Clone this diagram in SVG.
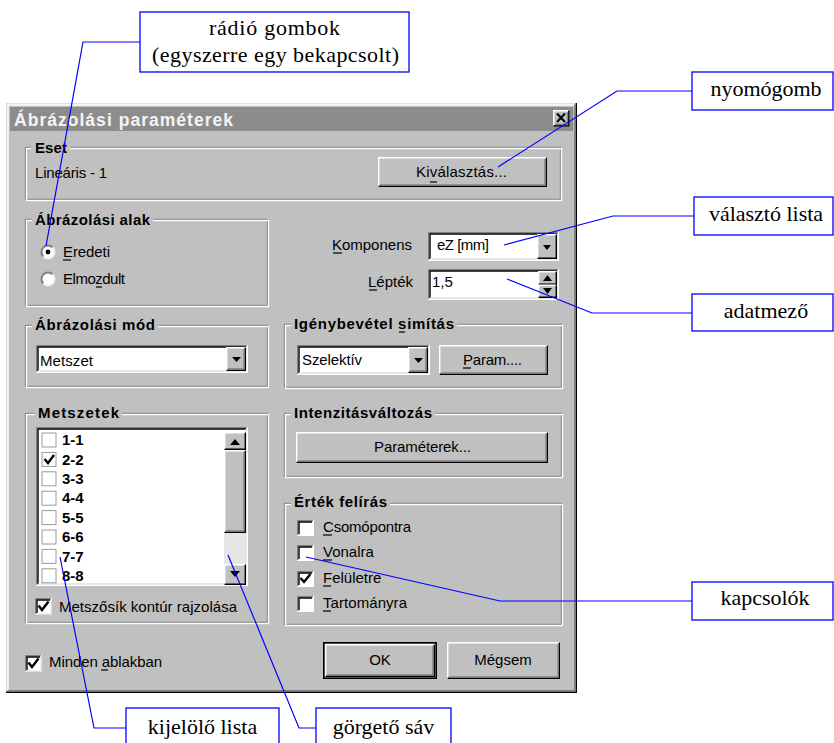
<svg xmlns="http://www.w3.org/2000/svg" width="834" height="743" viewBox="0 0 834 743">
<style>
.ui{font-family:'Liberation Sans',Arial,sans-serif;font-size:15px;fill:#000}
.b{font-weight:bold}
.call{font-family:'Liberation Serif','Times New Roman',serif;font-size:22px;fill:#000}
.cbox{fill:#fff;stroke:#0000ff;stroke-width:1.3}
.lead{fill:none;stroke:#0000ff;stroke-width:1.2}
.hl{fill:none;stroke:#fff;stroke-width:1.4}
.lt{fill:none;stroke:#dfdfdf;stroke-width:1.4}
.sh{fill:none;stroke:#000;stroke-width:1.4}
.dk{fill:none;stroke:#808080;stroke-width:1.4}
.face{fill:#c0c0c0}
.wh{fill:#fff}
.ul{stroke:#000;stroke-width:1.2}
.chk{fill:none;stroke:#000;stroke-width:2.4}
</style>
<rect width="834" height="743" fill="#fff"/>

<g id="dialog">
<rect x="6" y="103" width="571" height="590" class="face"/>
<path class="lt" d="M6.7 692 V103.7 H576"/>
<path class="hl" d="M8 690.5 V105 H574.5"/>
<path class="sh" d="M6 692.3 H576.3 V103" stroke-width="1.8"/>
<path class="dk" d="M7.5 690.8 H574.8 V104.5"/>
<rect x="10" y="107" width="563" height="24" fill="#8c8c8c"/>
<text x="14" y="125.5" class="ui b" font-size="17.5" style="fill:#f4f4f4;font-size:17.5px" textLength="219">Ábrázolási paraméterek</text>
</g>

<g id="close-btn">
<rect x="553" y="110" width="16" height="16" class="face"/>
<path class="hl" d="M553.7 125.5 V110.7 H568.3"/>
<path class="sh" d="M553.7 125.7 H568.7 V110.7"/>
<path class="dk" d="M555 124.5 H567.5 V112"/>
<path d="M557 113.5 L565 122 M565 113.5 L557 122" stroke="#000" stroke-width="2"/>
</g>

<g id="eset">
<rect x="25.5" y="147.5" width="535" height="52" class="dk"/>
<rect x="26.5" y="148.5" width="535" height="52" class="hl"/>
<rect x="31" y="144" width="39" height="8" class="face"/>
<text x="35" y="153" class="ui b" textLength="32">Eset</text>
<text x="35" y="178" class="ui" textLength="72">Lineáris - 1</text>
</g>

<g id="btn-kivalasztas">
<rect x="378" y="157" width="169" height="30" class="face"/>
<path class="hl" d="M378.7 186 V157.7 H546"/>
<path class="sh" d="M378.7 186.3 H546.3 V157.7"/>
<path class="dk" d="M380 185 H545 V159"/>
<text x="416" y="177" class="ui" textLength="91">Kiválasztás...</text>
<line x1="430" y1="182" x2="437" y2="182" class="ul"/>
</g>

<g id="abrazolasi-alak">
<rect x="25.5" y="219.5" width="242" height="86" class="dk"/>
<rect x="26.5" y="220.5" width="242" height="86" class="hl"/>
<rect x="32" y="216" width="121" height="8" class="face"/>
<text x="35" y="225" class="ui b" textLength="115">Ábrázolási alak</text>
<g id="radio-eredeti">
<circle cx="48" cy="252" r="6.5" class="wh"/>
<path d="M43.4 256.6 A6.5 6.5 0 0 1 52.6 247.4" fill="none" stroke="#808080" stroke-width="2"/>
<path d="M52.6 247.4 A6.5 6.5 0 0 1 43.4 256.6" fill="none" stroke="#f0f0f0" stroke-width="2"/>
<circle cx="48" cy="252" r="2.4" fill="#000"/>
<text x="63" y="257" class="ui" textLength="47">Eredeti</text>
<line x1="63" y1="260" x2="71" y2="260" class="ul"/>
</g>
<g id="radio-elmozdult">
<circle cx="48" cy="279" r="6.5" class="wh"/>
<path d="M43.4 283.6 A6.5 6.5 0 0 1 52.6 274.4" fill="none" stroke="#808080" stroke-width="2"/>
<path d="M52.6 274.4 A6.5 6.5 0 0 1 43.4 283.6" fill="none" stroke="#f0f0f0" stroke-width="2"/>
<text x="63" y="284" class="ui" textLength="62">Elmozdult</text>
<line x1="96" y1="287" x2="102" y2="287" class="ul"/>
</g>
</g>

<g id="komponens">
<text x="412" y="250" class="ui" text-anchor="end">Komponens</text>
<line x1="333" y1="253" x2="342" y2="253" class="ul"/>
<rect x="428" y="232" width="131" height="29" class="wh"/>
<path class="dk" d="M428.7 260 V232.7 H558"/>
<path class="sh" d="M430 259 V234 H557"/>
<path class="hl" d="M428.7 260.3 H558.3 V232.7"/>
<path class="lt" d="M430 259 H557 V234"/>
<text x="437" y="250" class="ui" textLength="52">eZ [mm]</text>
<rect x="537" y="234" width="20" height="25" class="face"/>
<path class="hl" d="M537.7 258 V234.7 H556"/>
<path class="sh" d="M537.7 258.3 H556.3 V234.7"/>
<polygon points="543,245 551,245 547,250" fill="#000"/>
</g>

<g id="leptek">
<text x="413" y="287" class="ui" text-anchor="end">Lépték</text>
<line x1="369" y1="290" x2="377" y2="290" class="ul"/>
<rect x="428" y="269" width="131" height="31" class="wh"/>
<path class="dk" d="M428.7 299 V269.7 H558"/>
<path class="sh" d="M430 298 V271 H557"/>
<path class="hl" d="M428.7 299.3 H558.3 V269.7"/>
<path class="lt" d="M430 298 H557 V271"/>
<text x="432" y="287" class="ui">1,5</text>
<rect x="538" y="271" width="19" height="27" class="face"/>
<path class="hl" d="M538.7 284 V271.7 H556"/>
<path class="sh" d="M538.7 284.3 H556.3 V271.7"/>
<path class="hl" d="M538.7 297 V285.2 H556"/>
<path class="sh" d="M538.7 297.3 H556.3 V285.2"/>
<polygon points="543,281 552,281 547.5,275" fill="#000"/>
<polygon points="543,288 552,288 547.5,294" fill="#000"/>
</g>

<g id="abrazolasi-mod">
<rect x="25.5" y="325.5" width="242" height="61" class="dk"/>
<rect x="26.5" y="326.5" width="242" height="61" class="hl"/>
<rect x="32" y="322" width="126" height="8" class="face"/>
<text x="35" y="330" class="ui b" textLength="120">Ábrázolási mód</text>
<rect x="36" y="345" width="212" height="28" class="wh"/>
<path class="dk" d="M36.7 372 V345.7 H247"/>
<path class="sh" d="M38 371 V347 H246"/>
<path class="hl" d="M36.7 372.3 H247.3 V345.7"/>
<path class="lt" d="M38 371 H246 V347"/>
<text x="40" y="366" class="ui" textLength="53">Metszet</text>
<rect x="226" y="347" width="20" height="24" class="face"/>
<path class="hl" d="M226.7 370 V347.7 H245"/>
<path class="sh" d="M226.7 370.3 H245.3 V347.7"/>
<path class="dk" d="M228 369 H244 V349"/>
<polygon points="232,357 241,357 236.5,362" fill="#000"/>
</g>

<g id="igenybevetel">
<rect x="284.5" y="324.5" width="277" height="63" class="dk"/>
<rect x="285.5" y="325.5" width="277" height="63" class="hl"/>
<rect x="291" y="321" width="166" height="8" class="face"/>
<text x="294" y="329" class="ui b" textLength="160">Igénybevétel simítás</text>
<line x1="399" y1="332" x2="405" y2="332" class="ul"/>
<rect x="297" y="345" width="133" height="30" class="wh"/>
<path class="dk" d="M297.7 374 V345.7 H429"/>
<path class="sh" d="M299 373 V347 H428"/>
<path class="hl" d="M297.7 374.3 H429.3 V345.7"/>
<path class="lt" d="M299 373 H428 V347"/>
<text x="302" y="365" class="ui" textLength="60">Szelektív</text>
<rect x="408" y="347" width="20" height="26" class="face"/>
<path class="hl" d="M408.7 372 V347.7 H427"/>
<path class="sh" d="M408.7 372.3 H427.3 V347.7"/>
<path class="dk" d="M410 371 H426 V349"/>
<polygon points="414,358 423,358 418.5,363" fill="#000"/>
</g>

<g id="btn-param">
<rect x="439" y="345" width="109" height="30" class="face"/>
<path class="hl" d="M439.7 374 V345.7 H547"/>
<path class="sh" d="M439.7 374.3 H547.3 V345.7"/>
<path class="dk" d="M441 373 H546 V347"/>
<text x="463" y="365" class="ui" textLength="59">Param....</text>
<line x1="463" y1="368" x2="471" y2="368" class="ul"/>
</g>

<g id="intenzitas">
<rect x="284.5" y="413.5" width="277" height="63" class="dk"/>
<rect x="285.5" y="414.5" width="277" height="63" class="hl"/>
<rect x="291" y="410" width="144" height="8" class="face"/>
<text x="294" y="418" class="ui b" textLength="138">Intenzitásváltozás</text>
</g>

<g id="btn-parameterek">
<rect x="296" y="432" width="252" height="31" class="face"/>
<path class="hl" d="M296.7 462 V432.7 H547"/>
<path class="sh" d="M296.7 462.3 H547.3 V432.7"/>
<path class="dk" d="M298 461 H546 V434"/>
<text x="374" y="452" class="ui" textLength="97">Paraméterek...</text>
</g>

<g id="metszetek">
<rect x="25.5" y="413.5" width="242" height="209" class="dk"/>
<rect x="26.5" y="414.5" width="242" height="209" class="hl"/>
<rect x="35" y="410" width="87" height="8" class="face"/>
<text x="38" y="418" class="ui b" textLength="81">Metszetek</text>
</g>

<g id="lista">
<rect x="36" y="427" width="212" height="159" class="wh"/>
<path class="dk" d="M36.7 585 V427.7 H247"/>
<path class="sh" d="M38 584 V429 H246"/>
<path class="hl" d="M36.7 585.3 H247.3 V427.7"/>
<path class="lt" d="M38 584 H246 V429"/>
<g class="ui b">
<rect x="42" y="433" width="14" height="14" fill="#fff" stroke="#9a9a9a"/>
<text x="62" y="445">1-1</text>
<rect x="42" y="452.4" width="14" height="14" fill="#fff" stroke="#9a9a9a"/>
<path class="chk" d="M44.5 459 L48 463 L54 455"/>
<text x="62" y="465">2-2</text>
<rect x="42" y="471.8" width="14" height="14" fill="#fff" stroke="#9a9a9a"/>
<text x="62" y="484">3-3</text>
<rect x="42" y="491.2" width="14" height="14" fill="#fff" stroke="#9a9a9a"/>
<text x="62" y="503">4-4</text>
<rect x="42" y="510.6" width="14" height="14" fill="#fff" stroke="#9a9a9a"/>
<text x="62" y="523">5-5</text>
<rect x="42" y="530" width="14" height="14" fill="#fff" stroke="#9a9a9a"/>
<text x="62" y="542">6-6</text>
<rect x="42" y="549.4" width="14" height="14" fill="#fff" stroke="#9a9a9a"/>
<text x="62" y="562">7-7</text>
<rect x="42" y="568.8" width="14" height="14" fill="#fff" stroke="#9a9a9a"/>
<text x="62" y="581">8-8</text>
</g>
</g>

<g id="scrollbar">
<rect x="224" y="432" width="22" height="153" fill="#e6e6e6"/>
<rect x="224" y="432" width="22" height="18" class="face"/>
<path class="hl" d="M224.7 449 V432.7 H245"/>
<path class="sh" d="M224.7 449.3 H245.3 V432.7"/>
<polygon points="230,445 240,445 235,439" fill="#000"/>
<rect x="224" y="450" width="22" height="83" class="face"/>
<path class="hl" d="M224.7 532 V450.7 H245"/>
<path class="sh" d="M224.7 532.3 H245.3 V450.7"/>
<path class="dk" d="M226 531 H244 V452"/>
<rect x="224" y="564" width="22" height="21" class="face"/>
<path class="hl" d="M224.7 584 V564.7 H245"/>
<path class="sh" d="M224.7 584.3 H245.3 V564.7"/>
<polygon points="230,571 240,571 235,577" fill="#000"/>
</g>

<g id="metszosik">
<rect x="35" y="598" width="17" height="17" class="wh"/>
<path class="dk" d="M35.7 614 V598.7 H51"/>
<path class="sh" d="M37 613 V600 H50"/>
<path class="lt" d="M35.7 614.3 H51.3 V598.7"/>
<path class="chk" d="M38.5 605.5 L42 610 L48.5 601.5"/>
<text x="59" y="612" class="ui" textLength="178">Metszősík kontúr rajzolása</text>
</g>

<g id="ertek-feliras">
<rect x="284.5" y="503.5" width="277" height="121" class="dk"/>
<rect x="285.5" y="504.5" width="277" height="121" class="hl"/>
<rect x="291" y="500" width="99" height="8" class="face"/>
<text x="294" y="507" class="ui b" textLength="93">Érték felírás</text>
<g id="cb-csomopontra">
<rect x="297" y="520" width="17" height="16" class="wh"/>
<path class="dk" d="M297.7 535 V520.7 H313"/>
<path class="sh" d="M299 534 V522 H312"/>
<text x="323" y="532" class="ui" textLength="88">Csomópontra</text>
<line x1="323" y1="535" x2="332" y2="535" class="ul"/>
</g>
<g id="cb-vonalra">
<rect x="297" y="545" width="17" height="16" class="wh"/>
<path class="dk" d="M297.7 560 V545.7 H313"/>
<path class="sh" d="M299 559 V547 H312"/>
<text x="323" y="557" class="ui">Vonalra</text>
<line x1="323" y1="560" x2="332" y2="560" class="ul"/>
</g>
<g id="cb-feluletre">
<rect x="297" y="571" width="17" height="16" class="wh"/>
<path class="dk" d="M297.7 586 V571.7 H313"/>
<path class="sh" d="M299 585 V573 H312"/>
<path class="chk" d="M300.5 578 L304 582 L310.5 574"/>
<text x="323" y="583" class="ui">Felületre</text>
<line x1="323" y1="586" x2="331" y2="586" class="ul"/>
</g>
<g id="cb-tartomanyra">
<rect x="297" y="596" width="17" height="16" class="wh"/>
<path class="dk" d="M297.7 611 V596.7 H313"/>
<path class="sh" d="M299 610 V598 H312"/>
<text x="323" y="608" class="ui" textLength="84">Tartományra</text>
<line x1="323" y1="611" x2="331" y2="611" class="ul"/>
</g>
</g>

<g id="minden-ablakban">
<rect x="25" y="655" width="17" height="17" class="wh"/>
<path class="dk" d="M25.7 671 V655.7 H41"/>
<path class="sh" d="M27 670 V657 H40"/>
<path class="lt" d="M25.7 671.3 H41.3 V655.7"/>
<path class="chk" d="M28.5 662.5 L32 667 L38.5 658.5"/>
<text x="49" y="667" class="ui" textLength="113">Minden ablakban</text>
<line x1="101" y1="670" x2="108" y2="670" class="ul"/>
</g>

<g id="btn-ok">
<rect x="323" y="642" width="114" height="37" class="face"/>
<rect x="323.8" y="642.8" width="112.4" height="35.4" fill="none" stroke="#000" stroke-width="1.6"/>
<path class="hl" d="M325.7 676 V644.7 H434"/>
<path class="sh" d="M325.7 676.3 H434.3 V644.7"/>
<path class="dk" d="M327 675 H433 V646"/>
<text x="380" y="665" class="ui" text-anchor="middle">OK</text>
</g>

<g id="btn-megsem">
<rect x="447" y="642" width="113" height="37" class="face"/>
<path class="hl" d="M447.7 678 V642.7 H559"/>
<path class="sh" d="M447.7 678.3 H559.3 V642.7"/>
<path class="dk" d="M449 677 H558 V644"/>
<text x="503" y="665" class="ui" text-anchor="middle">Mégsem</text>
</g>

<g id="connectors">
<polyline class="lead" points="140,42 83,42 46,246"/>
<polyline class="lead" points="692,91 617,91 498,167"/>
<polyline class="lead" points="694,216 613,216 504,245"/>
<polyline class="lead" points="692,313 592,313 507,279"/>
<polyline class="lead" points="692,601 500,601 306,557"/>
<polyline class="lead" points="126,728 94,728 60,557"/>
<polyline class="lead" points="316,728 299,728 228,555"/>
</g>

<g id="callout-radio">
<rect x="140" y="12" width="269" height="60" class="cbox"/>
<text x="274.5" y="35" class="call" text-anchor="middle" textLength="131">rádió gombok</text>
<text x="275.5" y="62" class="call" text-anchor="middle" textLength="247">(egyszerre egy bekapcsolt)</text>
</g>
<g id="callout-nyomogomb">
<rect x="692" y="72" width="141" height="38" class="cbox"/>
<text x="766" y="96" class="call" text-anchor="middle">nyomógomb</text>
</g>
<g id="callout-valaszto">
<rect x="694" y="197" width="139" height="38" class="cbox"/>
<text x="766" y="221" class="call" text-anchor="middle">választó lista</text>
</g>
<g id="callout-adatmezo">
<rect x="692" y="294" width="141" height="37" class="cbox"/>
<text x="766" y="318" class="call" text-anchor="middle">adatmező</text>
</g>
<g id="callout-kapcsolok">
<rect x="692" y="582" width="141" height="38" class="cbox"/>
<text x="765" y="605" class="call" text-anchor="middle">kapcsolók</text>
</g>
<g id="callout-kijelolo">
<rect x="126" y="708" width="153" height="40" class="cbox"/>
<text x="202.5" y="734" class="call" text-anchor="middle">kijelölő lista</text>
</g>
<g id="callout-gorgeto">
<rect x="316" y="708" width="135" height="40" class="cbox"/>
<text x="383.5" y="734" class="call" text-anchor="middle">görgető sáv</text>
</g>
</svg>
